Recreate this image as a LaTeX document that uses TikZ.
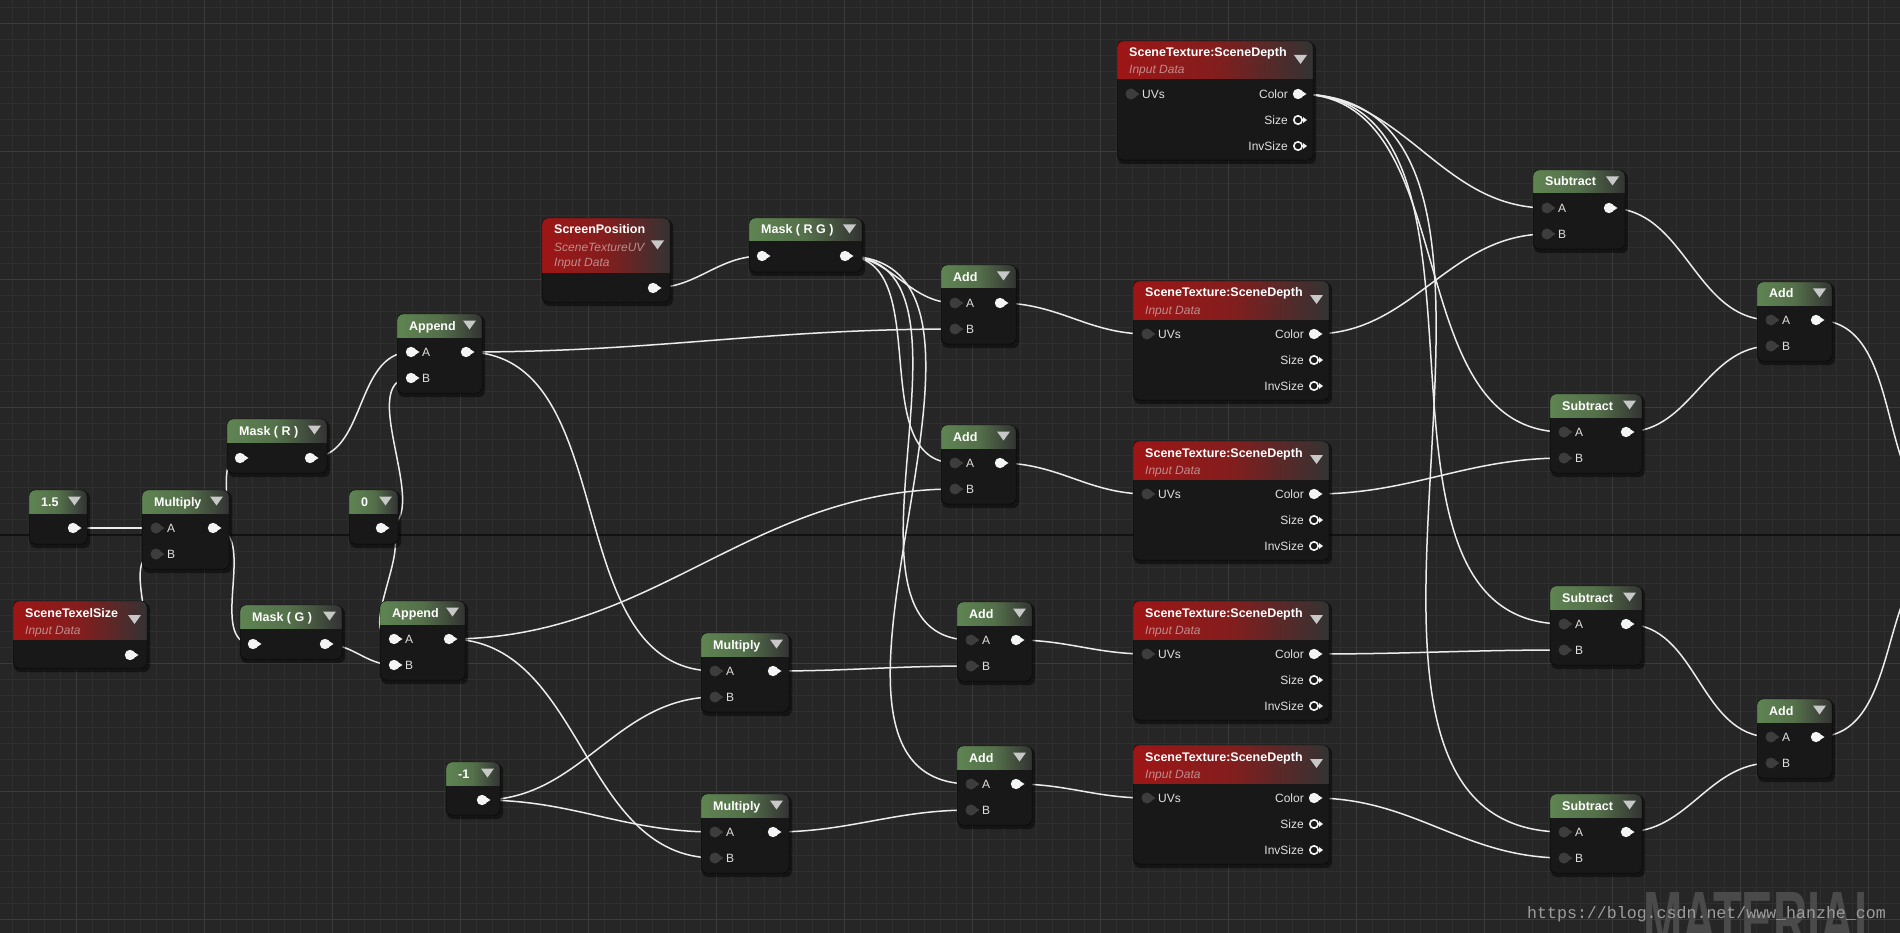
\documentclass[tikz,border=0pt]{standalone}
\usepackage{fontspec}
\setmainfont{Liberation Sans}
\newfontfamily\wmfont{Liberation Mono}
\usetikzlibrary{backgrounds}

\definecolor{bggray}{HTML}{262626}
\definecolor{gridminor}{HTML}{2F2F2F}
\definecolor{gridmajor}{HTML}{3B3B3B}
\definecolor{gridaxis}{HTML}{121212}
\definecolor{nodebody}{HTML}{181818}
\definecolor{nodeedge}{HTML}{0A0A0A}
\definecolor{hdrgreen}{HTML}{5F8452}
\definecolor{hdrred}{HTML}{9E1616}
\definecolor{hdrfade}{HTML}{333333}
\definecolor{dropgray}{HTML}{C8C8C8}
\definecolor{pinwhite}{HTML}{F4F4F4}
\definecolor{pindark}{HTML}{3D3D3D}
\definecolor{subred}{HTML}{C08C8C}
\definecolor{wirewhite}{HTML}{ECECEC}
\definecolor{wmgray}{HTML}{9C9C9C}
\definecolor{matgray}{HTML}{4A4A4A}

% one material node: shadow, body, header, arrow, title
% #1 name #2 x #3 y #4 width #5 height #6 header height #7 header colour #8 title
\newcommand{\matnode}[8]{%
  \fill[black, opacity=0.45, rounded corners=6] (#2+1,#3+2) rectangle ++(#4+2,#5+2);
  \node[bodybox, minimum width=#4, minimum height=#5, anchor=north west] (#1) at (#2,#3) {};
  \begin{scope}
    \clip[rounded corners=6] (#2,#3) rectangle ++(#4,#5);
    \shade[left color=#7, right color=hdrfade, middle color=#7!75!hdrfade] (#2,#3) rectangle ++(#4,#6);
  \end{scope}
  \draw[nodeedge, rounded corners=6] (#2,#3) rectangle ++(#4,#5);
  \fill[dropgray] (#2+#4-19,#3+#6/2-5) -- ++(13,0) -- ++(-6.5,9) -- cycle;
  \node[titletext] (#1-t) at (#2+12,#3+16) {#8};
}

% pins
\newcommand{\pinout}[2]{%
  \coordinate (#1) at (#2);
  \fill[pinwhite] (#1) circle (5.2);
  \fill[pinwhite] ([xshift=3.5pt,yshift=3.2pt]#1) -- ([xshift=8.5pt]#1) -- ([xshift=3.5pt,yshift=-3.2pt]#1) -- cycle;}
\newcommand{\pindk}[2]{%
  \coordinate (#1) at (#2);
  \fill[pindark] (#1) circle (5.5);
  \fill[pindark] ([xshift=4pt,yshift=3pt]#1) -- ([xshift=8.5pt]#1) -- ([xshift=4pt,yshift=-3pt]#1) -- cycle;}
\newcommand{\pinring}[2]{%
  \coordinate (#1) at (#2);
  \draw[pinwhite, line width=1.6pt] (#1) circle (4.2);
  \fill[pinwhite] ([xshift=5pt,yshift=3pt]#1) -- ([xshift=9pt]#1) -- ([xshift=5pt,yshift=-3pt]#1) -- cycle;}
\newcommand{\lblr}[2]{\node[pinlabel, anchor=base west] (#1-l) at ([xshift=11pt,yshift=-4.4pt]#1) {#2};}
\newcommand{\lbll}[2]{\node[pinlabel, anchor=base east] (#1-l) at ([xshift=-10pt,yshift=-4.4pt]#1) {#2};}

% node with inputs A, B and one output
\newcommand{\abnode}[6]{%
  \matnode{#1}{#2}{#3}{#4}{79}{23}{hdrgreen}{#5}
  #6{#1-a}{#2+14,#3+38}\lblr{#1-a}{A}
  #6{#1-b}{#2+14,#3+64}\lblr{#1-b}{B}
  \pinout{#1-o}{#2+#4-16,#3+38}}

% scene depth lookup
\newcommand{\stnode}[3]{%
  \matnode{#1}{#2}{#3}{196}{119}{38}{hdrred}{SceneTexture:SceneDepth}
  \node[subtext] (#1-s) at (#2+12,#3+33) {Input Data};
  \pindk{#1-uv}{#2+14,#3+53}\lblr{#1-uv}{UVs}
  \pinout{#1-c}{#2+181,#3+53}\lbll{#1-c}{Color}
  \pinring{#1-sz}{#2+181,#3+79}\lbll{#1-sz}{Size}
  \pinring{#1-is}{#2+181,#3+105}\lbll{#1-is}{InvSize}}

\begin{document}
\begin{tikzpicture}[x=1pt, y=-1pt,
    bodybox/.style={draw=nodeedge, fill=nodebody, rounded corners=6, inner sep=0pt},
    titletext/.style={anchor=base west, inner sep=0pt, text=white, font=\bfseries\fontsize{12.5}{14}\selectfont},
    pinlabel/.style={inner sep=0pt, text=white!88!black, font=\fontsize{12}{14}\selectfont},
    subtext/.style={anchor=base west, inner sep=0pt, text=subred, font=\itshape\fontsize{12}{14}\selectfont},
    wire/.style={draw=wirewhite, line width=1.5pt, out=0, in=180}]

	\def\W{1900} \def\H{933}
	\useasboundingbox (0,0) rectangle (\W,\H);

	% background grid
	\begin{scope}[on background layer]
		\fill[bggray] (0,0) rectangle (\W,\H);
		\foreach \gx in {12,28,...,\W} \draw[gridminor] (\gx,0) -- (\gx,\H);
		\foreach \gy in {7,23,...,\H} \draw[gridminor] (0,\gy) -- (\W,\gy);
		\foreach \gx in {76,204,...,\W} \draw[gridmajor] (\gx,0) -- (\gx,\H);
		\foreach \gy in {23,151,...,\H} \draw[gridmajor] (0,\gy) -- (\W,\gy);
		\draw[gridaxis, line width=1.5pt] (0,535) -- (\W,535);
	\end{scope}

	% constants and texel size
	\matnode{c15}{29}{490}{58}{54}{23}{hdrgreen}{1.5}
	\pinout{c15-o}{73,528}
	\matnode{c0}{349}{490}{49}{54}{23}{hdrgreen}{0}
	\pinout{c0-o}{381,528}
	\matnode{neg1}{446}{762}{54}{53}{23}{hdrgreen}{-1}
	\pinout{neg1-o}{482,800}
	\matnode{texel}{13}{601}{134}{67}{38}{hdrred}{SceneTexelSize}
	\node[subtext] (texel-s) at (25,634) {Input Data};
	\pinout{texel-o}{130,655}

	\abnode{mulL}{142}{490}{87}{Multiply}{\pindk}

	% masks
	\matnode{maskR}{227}{419}{100}{54}{23}{hdrgreen}{Mask ( R )}
	\pinout{maskR-i}{240,458} \pinout{maskR-o}{310,458}
	\matnode{maskG}{240}{605}{102}{54}{23}{hdrgreen}{Mask ( G )}
	\pinout{maskG-i}{253,644} \pinout{maskG-o}{325,644}

	\abnode{app1}{397}{314}{85}{Append}{\pinout}
	\abnode{app2}{380}{601}{85}{Append}{\pinout}

	% screen uv
	\matnode{spos}{542}{218}{128}{84}{55}{hdrred}{ScreenPosition}
	\node[subtext] (spos-s1) at (554,252) {SceneTextureUV};
	\node[subtext] (spos-s2) at (554,267) {Input Data};
	\pinout{spos-o}{653,288}
	\matnode{maskRG}{749}{218}{113}{54}{23}{hdrgreen}{Mask ( R G )}
	\pinout{maskRG-i}{762,256} \pinout{maskRG-o}{845,256}

	\abnode{mul1}{701}{633}{88}{Multiply}{\pindk}
	\abnode{mul2}{701}{794}{88}{Multiply}{\pindk}

	% offset uvs
	\abnode{add1}{941}{265}{75}{Add}{\pindk}
	\abnode{add2}{941}{425}{75}{Add}{\pindk}
	\abnode{add3}{957}{602}{75}{Add}{\pindk}
	\abnode{add4}{957}{746}{75}{Add}{\pindk}

	% depth samples
	\stnode{st1}{1117}{41}
	\stnode{st2}{1133}{281}
	\stnode{st3}{1133}{441}
	\stnode{st4}{1133}{601}
	\stnode{st5}{1133}{745}

	\abnode{sub1}{1533}{170}{92}{Subtract}{\pindk}
	\abnode{sub2}{1550}{394}{92}{Subtract}{\pindk}
	\abnode{sub3}{1550}{586}{92}{Subtract}{\pindk}
	\abnode{sub4}{1550}{794}{92}{Subtract}{\pindk}

	\abnode{add5}{1757}{282}{75}{Add}{\pindk}
	\abnode{add6}{1757}{699}{75}{Add}{\pindk}

	% inputs of the next node, off the right edge
	\coordinate (nextA) at (1965,520);
	\coordinate (nextB) at (1965,546);

	% wires
	\begin{scope}[on background layer]
		\clip (0,0) rectangle (\W,\H);
		\draw[wire] (c15-o) to (mulL-a);
		\draw[wire] (texel-o) to (mulL-b);
		\draw[wire] (mulL-o) to (maskR-i);
		\draw[wire] (mulL-o) to (maskG-i);
		\draw[wire] (maskR-o) to (app1-a);
		\draw[wire] (c0-o) to (app1-b);
		\draw[wire] (c0-o) to (app2-a);
		\draw[wire] (maskG-o) to (app2-b);
		\draw[wire] (spos-o) to (maskRG-i);
		\foreach \n in {add1,add2,add3,add4}
			\draw[wire] (maskRG-o) to (\n-a);
		\draw[wire] (app1-o) to (add1-b);
		\draw[wire] (app1-o) to (mul1-a);
		\draw[wire] (app2-o) to (add2-b);
		\draw[wire] (app2-o) to (mul2-b);
		\draw[wire] (neg1-o) to (mul1-b);
		\draw[wire] (neg1-o) to (mul2-a);
		\draw[wire] (mul1-o) to (add3-b);
		\draw[wire] (mul2-o) to (add4-b);
		\foreach \a/\s in {add1/st2, add2/st3, add3/st4, add4/st5}
			\draw[wire] (\a-o) to (\s-uv);
		\foreach \s in {sub1,sub2,sub3,sub4}
			\draw[wire] (st1-c) to (\s-a);
		\foreach \s/\t in {st2/sub1, st3/sub2, st4/sub3, st5/sub4}
			\draw[wire] (\s-c) to (\t-b);
		\draw[wire] (sub1-o) to (add5-a);
		\draw[wire] (sub2-o) to (add5-b);
		\draw[wire] (sub3-o) to (add6-a);
		\draw[wire] (sub4-o) to (add6-b);
		\draw[wire] (add5-o) to (nextA);
		\draw[wire] (add6-o) to (nextB);
	\end{scope}

	% watermark
	\begin{scope}
		\clip (0,0) rectangle (\W,\H);
		\node[anchor=base west, inner sep=0pt, xscale=0.59, text=matgray, font=\bfseries\fontsize{80}{80}\selectfont] (mat) at (1643,947) {MATERIAL};
	\end{scope}
	\node[anchor=base west, inner sep=0pt, text=wmgray, font=\wmfont\fontsize{16.6}{18}\selectfont] (wm) at (1527,918) {https://blog.csdn.net/www\_hanzhe\_com};

\end{tikzpicture}
\end{document}
